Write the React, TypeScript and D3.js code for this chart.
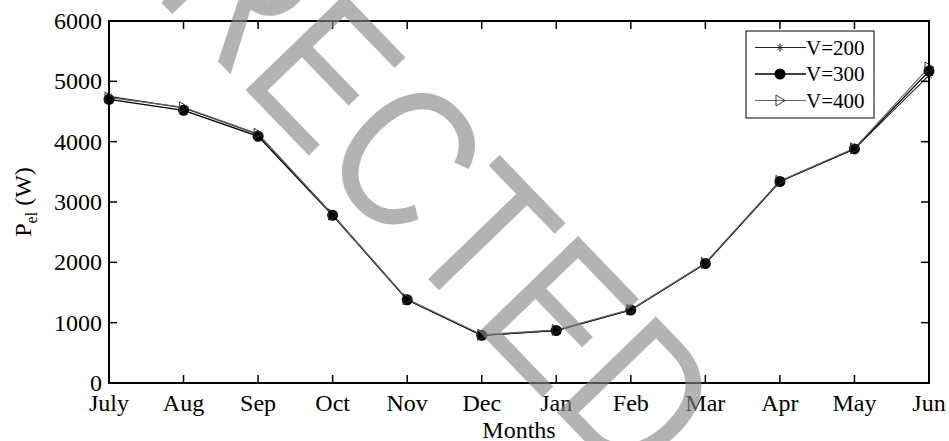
import React from "react";
import * as d3 from "d3";

const months = ["July", "Aug", "Sep", "Oct", "Nov", "Dec", "Jan", "Feb", "Mar", "Apr", "May", "Jun"];
const v200 = [4750, 4560, 4120, 2790, 1380, 790, 870, 1210, 1980, 3340, 3880, 5100];
const v300 = [4700, 4520, 4090, 2780, 1380, 790, 870, 1210, 1980, 3340, 3880, 5170];
const v400 = [4730, 4570, 4130, 2790, 1390, 800, 880, 1220, 1990, 3350, 3890, 5230];
const yTicks = [0, 1000, 2000, 3000, 4000, 5000, 6000];
const seriesNames = ["V=200", "V=300", "V=400"];

const W = 949, H = 441;
const L = 109, R = 929, T = 21, B = 383;
const serif = "'Liberation Serif', 'Times New Roman', serif";

export default function App() {
  const x = d3.scalePoint<string>().domain(months).range([L, R]);
  const y = d3.scaleLinear().domain([0, 6000]).range([B, T]);
  const line = d3.line<number>().x((_, i) => x(months[i]) as number).y((d) => y(d));

  const series = [
    { name: seriesNames[0], data: v200, color: "#222", width: 1.1, marker: "star" },
    { name: seriesNames[1], data: v300, color: "#000", width: 1.3, marker: "circle" },
    { name: seriesNames[2], data: v400, color: "#666", width: 1.2, marker: "tri" },
  ];

  const marker = (type: string, cx: number, cy: number, key: string) => {
    if (type === "circle") return <circle key={key} cx={cx} cy={cy} r={5.5} fill="#000" />;
    if (type === "tri")
      return (
        <path key={key} d={`M${cx - 4},${cy - 5.5}L${cx + 5},${cy}L${cx - 4},${cy + 5.5}Z`} fill="none" stroke="#333" strokeWidth={1} />
      );
    const s = 4;
    return (
      <path key={key} d={`M${cx - s},${cy}L${cx + s},${cy}M${cx - s * 0.7},${cy - s * 0.7}L${cx + s * 0.7},${cy + s * 0.7}M${cx - s * 0.7},${cy + s * 0.7}L${cx + s * 0.7},${cy - s * 0.7}M${cx},${cy - s}L${cx},${cy + s}`} stroke="#222" strokeWidth={1} />
    );
  };

  const tickLen = 8;

  return (
    <svg width={W} height={H} style={{ position: "absolute", left: 0, top: 0, background: "#fff" }}>
      <rect x={0} y={0} width={W} height={H} fill="#fff" />
      {series.map((s) => (
        <path key={s.name} d={line(s.data) || ""} fill="none" stroke={s.color} strokeWidth={s.width} />
      ))}
      {series.map((s) =>
        s.data.map((v, i) => marker(s.marker, x(months[i]) as number, y(v), s.name + i))
      )}
      <rect x={L} y={T} width={R - L} height={B - T} fill="none" stroke="#000" strokeWidth={2} />
      {months.map((m) => {
        const px = x(m) as number;
        return (
          <g key={m}>
            <line x1={px} x2={px} y1={B} y2={B - tickLen} stroke="#000" strokeWidth={1.5} />
            <line x1={px} x2={px} y1={T} y2={T + tickLen} stroke="#000" strokeWidth={1.5} />
            <text x={px} y={B + 28} textAnchor="middle" fontFamily={serif} fontSize={24} fill="#000">{m}</text>
          </g>
        );
      })}
      {yTicks.map((t) => (
        <g key={t}>
          <line x1={L} x2={L + tickLen} y1={y(t)} y2={y(t)} stroke="#000" strokeWidth={1.5} />
          <line x1={R} x2={R - tickLen} y1={y(t)} y2={y(t)} stroke="#000" strokeWidth={1.5} />
          <text x={L - 7} y={y(t) + 8} textAnchor="end" fontFamily={serif} fontSize={24} fill="#000">{t}</text>
        </g>
      ))}
      <text x={(L + R) / 2} y={438} textAnchor="middle" fontFamily={serif} fontSize={24} fill="#000">Months</text>
      <text transform={`translate(31,${(T + B) / 2}) rotate(-90)`} textAnchor="middle" fontFamily={serif} fontSize={24} fill="#000">
        P<tspan fontSize={16} dy={6}>el</tspan><tspan dy={-6}> (W)</tspan>
      </text>
      <rect x={746} y={31} width={128} height={87} fill="#fff" stroke="#000" strokeWidth={1} />
      {series.map((s, i) => {
        const ly = 47.5 + i * 26.5;
        return (
          <g key={s.name}>
            <line x1={755} x2={806} y1={ly} y2={ly} stroke={s.color} strokeWidth={s.width} />
            {marker(s.marker, 780, ly, "lg" + i)}
            <text x={806} y={ly + 7} fontFamily={serif} fontSize={21} fill="#000">{s.name}</text>
          </g>
        );
      })}
      <g transform="translate(236,80) rotate(46) scale(0.84,1)" fontFamily="'Liberation Sans', Arial, sans-serif" fontSize={200} fill="#878787" fillOpacity={0.63}>
        <text x={0} y={0} textAnchor="end">CORR</text>
        <text x={0} y={0} textAnchor="start">ECTED</text>
      </g>
    </svg>
  );
}
